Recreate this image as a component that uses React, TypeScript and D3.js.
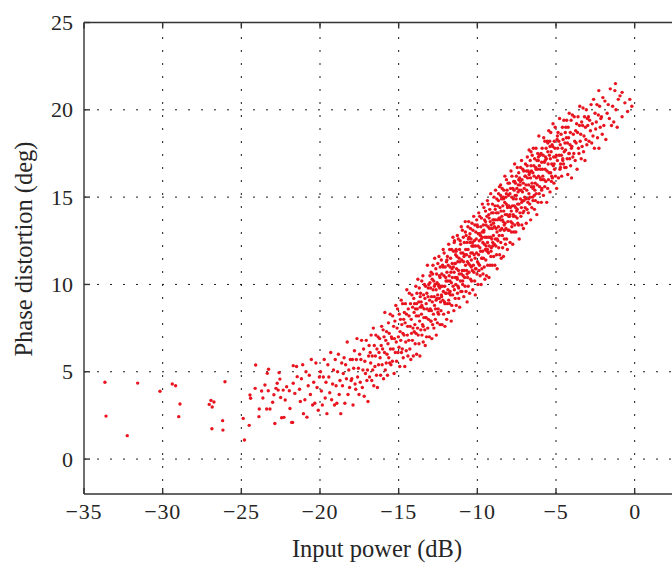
import React from "react";
import * as d3 from "d3";

// Axis ticks and titles
const xTicks = [-35, -30, -25, -20, -15, -10, -5, 0];
const yTicks = [0, 5, 10, 15, 20, 25];
const xLabel = "Input power (dB)";
const yLabel = "Phase distortion (deg)";

// Sparse low-power tail
const powerTail = [-33.67, -33.6, -32.25, -31.59, -30.17, -29.39, -29.18, -28.9, -28.98, -27.04, -26.93, -26.74, -26.85, -26.87, -26.19, -26.17, -26.04, -24.88, -24.8, -24.5, -24.09, -24.45, -24.41, -24.12, -23.88, -23.86, -23.71, -23.63, -23.5, -23.39, -23.35, -23.27, -23.18, -23.29, -23.01, -22.93, -22.87, -22.8, -22.72, -22.66, -22.6, -22.55, -22.5, -22.44, -22.34, -22.29, -22.21, -22.12, -21.95, -21.91, -21.74, -21.7, -21.7, -21.6, -21.45, -21.8, -21.49, -21.3, -21.25, -21.18, -21.1, -21.05];
const phaseTail = [4.4, 2.46, 1.34, 4.35, 3.88, 4.3, 4.2, 3.15, 2.43, 3.13, 3.36, 3.27, 2.98, 1.74, 2.2, 1.66, 4.43, 2.33, 1.09, 1.93, 5.39, 3.67, 3.48, 4.05, 2.43, 2.87, 3.9, 3.5, 4.24, 2.87, 4.91, 5.14, 2.87, 3.91, 3.25, 3.68, 2.04, 4.05, 4.34, 3.95, 4.95, 4.58, 3.53, 2.37, 3.95, 2.39, 3.38, 4.14, 3.91, 2.9, 2.1, 5.35, 4.34, 3.76, 4.72, 2.1, 5.3, 4.0, 3.3, 4.6, 5.4, 2.6];

// -21 dB to -15 dB
const powerLow = [
  -20.96, -20.89, -20.83, -20.75, -20.68, -20.61, -20.55, -20.47, -20.4, -20.33, -20.26, -20.19, -20.11, -20.04,
  -19.97, -19.91, -19.85, -19.79, -19.73, -19.67, -19.62, -19.56, -19.5, -19.44, -19.38, -19.32, -19.26, -19.2, -19.14, -19.08, -19.03,
  -18.98, -18.93, -18.88, -18.83, -18.78, -18.73, -18.68, -18.62, -18.57, -18.52, -18.47, -18.42, -18.37, -18.32, -18.27, -18.22, -18.17, -18.12, -18.07, -18.02,
  -17.98, -17.94, -17.9, -17.86, -17.81, -17.77, -17.73, -17.69, -17.65, -17.61, -17.56, -17.52, -17.48, -17.44, -17.4, -17.36, -17.31, -17.27, -17.23, -17.19, -17.15, -17.11, -17.06, -17.02,
  -16.98, -16.95, -16.91, -16.88, -16.85, -16.81, -16.78, -16.75, -16.71, -16.68, -16.65, -16.61, -16.58, -16.55, -16.51, -16.48, -16.45, -16.41, -16.38, -16.35, -16.31, -16.28, -16.25, -16.21, -16.18, -16.15, -16.11, -16.08, -16.05, -16.02,
  -15.99, -15.96, -15.93, -15.9, -15.88, -15.85, -15.82, -15.79, -15.77, -15.74, -15.71, -15.68, -15.65, -15.63, -15.6, -15.57, -15.54, -15.52, -15.49, -15.46, -15.43, -15.4, -15.38, -15.35, -15.32, -15.29, -15.27, -15.24, -15.21, -15.18, -15.15, -15.13, -15.1, -15.07, -15.04, -15.02,
];
const phaseLow = [
  3.4, 5.0, 2.4, 4.2, 4.8, 3.7, 5.7, 3.1, 4.4, 3.2, 5.5, 4.1, 2.8, 4.7,
  5.0, 3.9, 3.1, 4.7, 5.7, 3.5, 4.4, 2.6, 5.4, 4.7, 3.8, 6.1, 3.4, 4.3, 5.1, 3.1, 5.7,
  4.2, 3.2, 5.0, 6.0, 3.7, 4.5, 2.6, 5.5, 4.2, 4.9, 5.8, 3.2, 5.4, 4.6, 6.7, 3.7, 5.1, 4.1, 5.7, 4.5,
  4.6, 5.7, 3.1, 5.2, 6.2, 4.3, 4.0, 5.7, 6.9, 4.7, 5.2, 3.7, 6.0, 4.4, 5.7, 6.8, 4.1, 5.1, 6.3, 3.6, 5.6, 4.9, 6.8, 4.5,
  5.1, 3.3, 5.9, 6.5, 4.7, 6.1, 5.5, 7.1, 4.5, 5.9, 5.1, 7.5, 4.2, 6.5, 5.3, 5.9, 7.1, 4.8, 6.3, 4.1, 7.0, 5.4, 6.1, 6.9, 5.8, 4.8, 6.5, 7.6, 5.4, 6.3,
  7.4, 4.6, 7.0, 6.1, 8.4, 5.1, 6.8, 5.5, 7.3, 6.0, 4.8, 6.6, 7.8, 5.8, 7.2, 5.5, 8.3, 6.3, 5.4, 7.0, 6.9, 5.6, 8.2, 6.3, 7.6, 4.9, 6.9, 7.9, 6.1, 8.8, 6.7, 5.6, 7.5, 8.6, 6.1, 7.0,
];

// -15 dB to -9 dB
const powerMid = [
  -14.98, -14.96, -14.93, -14.91, -14.89, -14.87, -14.84, -14.82, -14.8, -14.77, -14.75, -14.73, -14.71, -14.68, -14.66, -14.64, -14.61, -14.59, -14.57, -14.55, -14.52, -14.5, -14.48, -14.45, -14.43, -14.41, -14.39, -14.36, -14.34, -14.32, -14.29, -14.27, -14.25, -14.23, -14.2, -14.18, -14.16, -14.13, -14.11, -14.09, -14.07, -14.04, -14.02, -14.01,
  -13.99, -13.97, -13.95, -13.93, -13.91, -13.9, -13.88, -13.86, -13.84, -13.82, -13.8, -13.78, -13.76, -13.74, -13.72, -13.71, -13.69, -13.67, -13.65, -13.63, -13.61, -13.59, -13.57, -13.55, -13.53, -13.52, -13.5, -13.48, -13.46, -13.44, -13.42, -13.4, -13.38, -13.36, -13.34, -13.33, -13.31, -13.29, -13.27, -13.25, -13.23, -13.21, -13.19, -13.17, -13.15, -13.13, -13.11, -13.09, -13.07, -13.05, -13.03, -13.01,
  -12.99, -12.97, -12.96, -12.94, -12.92, -12.91, -12.89, -12.87, -12.86, -12.84, -12.82, -12.81, -12.79, -12.77, -12.76, -12.74, -12.72, -12.71, -12.69, -12.67, -12.66, -12.64, -12.62, -12.61, -12.59, -12.57, -12.56, -12.54, -12.52, -12.51, -12.49, -12.47, -12.46, -12.44, -12.42, -12.41, -12.39, -12.37, -12.36, -12.34, -12.32, -12.31, -12.29, -12.27, -12.26, -12.24, -12.22, -12.21, -12.19, -12.17, -12.16, -12.14, -12.12, -12.11, -12.09, -12.07, -12.06, -12.04, -12.02, -12.01,
  -11.99, -11.98, -11.96, -11.95, -11.93, -11.91, -11.9, -11.88, -11.87, -11.85, -11.84, -11.82, -11.8, -11.79, -11.77, -11.76, -11.74, -11.73, -11.71, -11.7, -11.68, -11.66, -11.65, -11.63, -11.62, -11.6, -11.59, -11.57, -11.55, -11.54, -11.52, -11.51, -11.49, -11.48, -11.46, -11.45, -11.43, -11.41, -11.4, -11.38, -11.37, -11.35, -11.34, -11.32, -11.3, -11.29, -11.27, -11.26, -11.24, -11.23, -11.21, -11.2, -11.18, -11.16, -11.15, -11.13, -11.12, -11.1, -11.09, -11.07, -11.05, -11.04, -11.02, -11.01,
  -10.99, -10.98, -10.96, -10.95, -10.93, -10.92, -10.9, -10.89, -10.87, -10.86, -10.84, -10.83, -10.81, -10.8, -10.78, -10.77, -10.75, -10.74, -10.72, -10.71, -10.69, -10.68, -10.66, -10.65, -10.63, -10.62, -10.6, -10.59, -10.58, -10.56, -10.55, -10.53, -10.52, -10.5, -10.49, -10.47, -10.46, -10.44, -10.43, -10.41, -10.4, -10.38, -10.37, -10.35, -10.34, -10.32, -10.31, -10.29, -10.28, -10.26, -10.25, -10.23, -10.22, -10.2, -10.19, -10.17, -10.16, -10.14, -10.13, -10.11, -10.1, -10.08, -10.07, -10.05, -10.04, -10.02,
  -9.99, -9.98, -9.96, -9.95, -9.94, -9.92, -9.91, -9.89, -9.88, -9.86, -9.85, -9.84, -9.82, -9.81, -9.79, -9.78, -9.76, -9.75, -9.74, -9.72, -9.71, -9.69, -9.68, -9.66, -9.65, -9.64, -9.62, -9.61, -9.59, -9.58, -9.56, -9.55, -9.54, -9.52, -9.51, -9.49, -9.48, -9.46, -9.45, -9.44, -9.42, -9.41, -9.39, -9.38, -9.36, -9.35, -9.34, -9.32, -9.31, -9.29, -9.28, -9.26, -9.25, -9.24, -9.22, -9.21, -9.19, -9.18, -9.16, -9.15, -9.14, -9.12, -9.11, -9.09, -9.08, -9.06, -9.05, -9.04, -9.02, -9.01,
];
const phaseMid = [
  6.4, 8.3, 5.3, 7.3, 8.0, 6.8, 9.1, 6.1, 7.7, 6.3, 8.9, 7.2, 5.8, 8.0, 7.1, 8.4, 5.3, 7.8, 8.9, 6.7, 6.2, 8.3, 9.7, 7.1, 7.6, 5.9, 8.6, 6.8, 8.2, 9.5, 6.3, 7.6, 8.9, 5.7, 8.0, 7.2, 9.4, 6.8, 8.7, 7.5, 5.9, 9.2, 8.4, 7.3,
  8.9, 7.7, 6.6, 8.6, 9.9, 7.2, 8.2, 6.0, 9.5, 8.6, 7.5, 10.3, 7.1, 8.2, 9.0, 6.6, 9.8, 7.9, 5.9, 8.7, 9.5, 7.4, 9.0, 8.3, 10.2, 7.1, 8.7, 7.7, 10.5, 6.7, 9.4, 8.1, 8.6, 10.0, 7.4, 9.2, 6.5, 9.9, 8.1, 8.9, 7.0, 9.5, 8.6, 11.1, 7.5, 9.3, 8.0, 10.0, 8.5, 7.0, 9.1, 10.5,
  8.6, 9.8, 7.9, 10.7, 8.5, 9.3, 6.9, 10.3, 9.0, 7.7, 11.1, 9.7, 8.3, 10.2, 7.5, 9.3, 8.8, 11.5, 10.0, 8.0, 8.6, 10.9, 9.7, 7.1, 10.6, 9.2, 10.1, 7.8, 9.4, 11.2, 8.6, 10.0, 8.3, 11.6, 9.2, 10.5, 9.8, 7.7, 11.0, 9.0, 9.9, 8.5, 11.4, 9.3, 10.6, 7.7, 9.9, 11.1, 9.1, 12.0, 9.6, 8.3, 10.5, 11.8, 9.0, 9.9, 7.6, 11.0, 9.5, 10.4,
  10.2, 9.5, 11.3, 8.0, 10.7, 8.9, 11.6, 10.2, 9.7, 11.1, 8.4, 12.3, 9.5, 10.5, 8.9, 12.0, 10.2, 11.0, 9.4, 11.5, 10.7, 7.9, 10.1, 12.0, 8.8, 11.2, 10.4, 9.4, 12.7, 9.9, 11.0, 11.9, 8.5, 10.7, 9.7, 12.5, 11.2, 9.2, 10.4, 11.7, 10.0, 12.0, 8.8, 10.9, 11.6, 10.4, 12.8, 9.5, 11.3, 9.9, 12.6, 10.8, 9.2, 11.5, 10.6, 12.0, 8.7, 11.3, 12.5, 10.2, 9.6, 11.8, 13.3, 10.6,
  11.4, 9.6, 10.8, 13.1, 10.0, 11.8, 10.5, 12.7, 11.3, 9.3, 10.8, 12.4, 10.4, 11.7, 9.9, 13.6, 11.1, 12.0, 9.6, 12.8, 11.7, 10.8, 12.4, 9.0, 11.3, 10.4, 13.3, 12.0, 9.9, 11.2, 13.6, 10.7, 12.7, 11.6, 9.5, 12.4, 11.1, 13.2, 10.3, 11.8, 12.6, 11.4, 10.2, 12.2, 13.5, 10.8, 11.8, 9.7, 13.1, 12.2, 11.1, 13.9, 10.7, 11.7, 12.5, 10.2, 13.4, 11.5, 9.4, 12.2, 13.0, 10.9, 12.6, 11.8, 13.7, 10.6,
  11.3, 13.3, 10.0, 12.2, 12.9, 11.7, 14.1, 10.8, 12.5, 11.1, 13.9, 12.1, 10.5, 12.8, 11.9, 13.3, 10.0, 12.6, 13.8, 11.5, 10.9, 13.0, 14.6, 11.9, 12.4, 10.6, 13.4, 11.5, 13.0, 14.4, 11.0, 12.3, 13.7, 10.3, 12.7, 12.0, 14.2, 11.4, 13.4, 12.2, 10.5, 12.7, 13.9, 11.9, 14.8, 12.4, 11.1, 13.3, 14.6, 11.8, 12.7, 10.4, 13.8, 12.2, 13.2, 14.3, 11.1, 13.6, 12.7, 15.2, 11.6, 13.4, 12.1, 14.1, 12.6, 11.1, 13.2, 14.6, 12.4, 13.7,
];

// -9 dB to 0 dB
const powerHigh = [
  -8.99, -8.98, -8.96, -8.95, -8.94, -8.92, -8.91, -8.89, -8.88, -8.86, -8.85, -8.84, -8.82, -8.81, -8.79, -8.78, -8.76, -8.75, -8.74, -8.72, -8.71, -8.69, -8.68, -8.66, -8.65, -8.64, -8.62, -8.61, -8.59, -8.58, -8.56, -8.55, -8.54, -8.52, -8.51, -8.49, -8.48, -8.46, -8.45, -8.44, -8.42, -8.41, -8.39, -8.38, -8.36, -8.35, -8.34, -8.32, -8.31, -8.29, -8.28, -8.26, -8.25, -8.24, -8.22, -8.21, -8.19, -8.18, -8.16, -8.15, -8.14, -8.12, -8.11, -8.09, -8.08, -8.06, -8.05, -8.04, -8.02, -8.01,
  -7.99, -7.98, -7.96, -7.95, -7.93, -7.92, -7.9, -7.89, -7.87, -7.86, -7.84, -7.83, -7.81, -7.8, -7.78, -7.77, -7.75, -7.74, -7.72, -7.71, -7.69, -7.68, -7.66, -7.65, -7.63, -7.62, -7.6, -7.59, -7.58, -7.56, -7.55, -7.53, -7.52, -7.5, -7.49, -7.47, -7.46, -7.44, -7.43, -7.41, -7.4, -7.38, -7.37, -7.35, -7.34, -7.32, -7.31, -7.29, -7.28, -7.26, -7.25, -7.23, -7.22, -7.2, -7.19, -7.17, -7.16, -7.14, -7.13, -7.11, -7.1, -7.08, -7.07, -7.05, -7.04, -7.02,
  -6.99, -6.97, -6.96, -6.94, -6.92, -6.91, -6.89, -6.87, -6.86, -6.84, -6.82, -6.81, -6.79, -6.77, -6.76, -6.74, -6.72, -6.71, -6.69, -6.67, -6.66, -6.64, -6.62, -6.61, -6.59, -6.57, -6.56, -6.54, -6.52, -6.51, -6.49, -6.47, -6.46, -6.44, -6.42, -6.41, -6.39, -6.37, -6.36, -6.34, -6.32, -6.31, -6.29, -6.27, -6.26, -6.24, -6.22, -6.21, -6.19, -6.17, -6.16, -6.14, -6.12, -6.11, -6.09, -6.07, -6.06, -6.04, -6.02, -6.01,
  -5.99, -5.97, -5.95, -5.93, -5.91, -5.9, -5.88, -5.86, -5.84, -5.82, -5.8, -5.78, -5.76, -5.74, -5.72, -5.71, -5.69, -5.67, -5.65, -5.63, -5.61, -5.59, -5.57, -5.55, -5.53, -5.52, -5.5, -5.48, -5.46, -5.44, -5.42, -5.4, -5.38, -5.36, -5.34, -5.33, -5.31, -5.29, -5.27, -5.25, -5.23, -5.21, -5.19, -5.17, -5.15, -5.13, -5.11, -5.09, -5.07, -5.05, -5.03, -5.01,
  -4.98, -4.96, -4.93, -4.91, -4.89, -4.87, -4.84, -4.82, -4.8, -4.77, -4.75, -4.73, -4.71, -4.68, -4.66, -4.64, -4.61, -4.59, -4.57, -4.55, -4.52, -4.5, -4.48, -4.45, -4.43, -4.41, -4.39, -4.36, -4.34, -4.32, -4.29, -4.27, -4.25, -4.23, -4.2, -4.18, -4.16, -4.13, -4.11, -4.09, -4.07, -4.04, -4.02, -4.01,
  -3.99, -3.96, -3.93, -3.9, -3.87, -3.84, -3.81, -3.78, -3.75, -3.72, -3.69, -3.66, -3.63, -3.6, -3.57, -3.54, -3.51, -3.49, -3.46, -3.43, -3.4, -3.37, -3.34, -3.31, -3.28, -3.25, -3.22, -3.19, -3.16, -3.13, -3.1, -3.07, -3.04, -3.01,
  -2.98, -2.94, -2.9, -2.86, -2.81, -2.77, -2.73, -2.69, -2.65, -2.61, -2.56, -2.52, -2.48, -2.44, -2.4, -2.36, -2.31, -2.27, -2.23, -2.19, -2.15, -2.11, -2.06, -2.02,
  -1.96, -1.89, -1.83, -1.75, -1.68, -1.61, -1.55, -1.47, -1.4, -1.33, -1.26, -1.19, -1.11, -1.04,
  -0.93, -0.8, -0.62, -0.45, -0.31, -0.18, -1.22, -2.28, -0.8,
];
const phaseHigh = [
  14.1, 12.8, 11.6, 13.7, 15.0, 12.3, 13.3, 11.1, 14.5, 13.7, 12.6, 15.4, 12.2, 13.2, 14.1, 11.7, 14.9, 13.0, 10.9, 13.7, 14.5, 12.5, 14.1, 13.3, 15.2, 12.1, 13.8, 12.8, 15.6, 11.7, 14.4, 13.1, 13.7, 15.1, 12.4, 14.2, 11.5, 14.9, 13.2, 13.9, 15.5, 13.7, 12.1, 14.5, 13.6, 15.0, 11.6, 14.2, 15.4, 13.1, 12.6, 14.7, 16.2, 13.5, 14.0, 12.3, 15.0, 13.2, 14.6, 16.0, 12.6, 14.0, 15.4, 12.0, 14.4, 13.6, 15.8, 13.1, 15.1, 13.9,
  14.5, 13.1, 15.8, 13.9, 15.2, 12.4, 14.4, 15.5, 13.6, 16.5, 14.2, 13.0, 15.0, 16.2, 13.5, 14.5, 12.3, 15.5, 14.0, 14.9, 15.9, 13.0, 15.4, 14.5, 16.9, 13.4, 15.1, 13.9, 15.8, 14.4, 13.0, 14.9, 16.2, 14.2, 15.5, 13.8, 16.7, 14.6, 13.5, 15.3, 15.7, 13.4, 16.4, 14.6, 12.6, 15.4, 16.1, 14.1, 15.7, 14.9, 16.7, 13.9, 15.4, 14.4, 17.1, 13.4, 16.0, 14.8, 15.3, 16.6, 14.1, 15.8, 13.2, 16.5, 14.8, 15.5,
  15.0, 16.2, 14.4, 16.9, 14.9, 15.7, 13.5, 16.5, 15.4, 14.3, 17.3, 16.1, 14.7, 16.5, 14.1, 15.7, 15.2, 17.7, 16.4, 14.6, 15.0, 17.1, 16.1, 13.7, 16.8, 15.6, 16.5, 14.4, 15.8, 17.4, 15.0, 16.4, 14.8, 17.8, 15.6, 16.8, 16.2, 14.3, 17.2, 15.4, 15.8, 14.8, 16.7, 17.8, 15.2, 16.1, 14.0, 17.1, 15.7, 16.6, 17.5, 14.7, 17.1, 16.2, 18.5, 15.2, 16.8, 15.6, 17.4, 16.1,
  16.6, 16.0, 17.5, 14.7, 17.0, 15.5, 17.8, 16.6, 16.2, 17.4, 15.1, 18.4, 16.0, 17.0, 15.6, 18.2, 16.6, 17.3, 15.9, 17.8, 17.2, 14.7, 16.5, 18.2, 15.5, 17.6, 16.9, 16.0, 18.8, 16.4, 17.4, 18.2, 15.3, 17.2, 16.4, 18.7, 17.6, 15.9, 16.9, 18.0, 16.1, 17.9, 19.2, 16.8, 17.3, 15.8, 18.2, 16.6, 17.8, 19.0, 16.2, 17.3,
  17.4, 15.5, 18.3, 17.1, 17.8, 18.7, 16.1, 18.2, 17.4, 19.5, 16.6, 18.0, 16.9, 18.6, 17.4, 16.2, 17.8, 19.0, 17.2, 18.3, 16.9, 19.4, 17.6, 16.7, 18.1, 18.7, 17.7, 16.7, 18.4, 19.4, 17.2, 18.1, 16.3, 19.0, 18.4, 17.5, 19.8, 17.2, 18.0, 18.7, 16.8, 19.4, 17.8, 16.1,
  17.9, 19.7, 17.3, 18.6, 17.5, 19.6, 18.2, 17.1, 18.8, 18.1, 19.2, 16.6, 18.7, 19.6, 17.8, 17.5, 19.1, 20.2, 18.2, 18.6, 17.2, 19.3, 17.9, 19.1, 20.1, 17.6, 18.5, 19.6, 17.1, 19.0, 18.3, 20.0, 18.0, 19.5,
  19.1, 19.6, 18.2, 19.4, 18.8, 20.3, 18.1, 19.2, 18.5, 20.6, 17.8, 19.8, 18.9, 19.3, 20.3, 18.4, 19.7, 17.8, 20.2, 19.0, 19.5, 19.6, 18.6, 20.7,
  19.1, 20.5, 18.3, 19.8, 20.3, 19.5, 21.2, 19.1, 20.2, 19.3, 21.1, 20.0, 19.0, 20.6,
  20.8, 19.6, 20.4, 19.9, 20.6, 20.2, 21.5, 21.1, 21.0,
];

// Additional samples in the dense -14 dB to -4 dB stretch
const powerDense = [
  -12.73, -8.41, -10.57, -6.38, -11.82, -9.27, -7.63, -13.44, -5.52, -10.12, -8.86, -12.18, -7.04, -9.71, -11.35, -6.83, -4.72, -13.86, -10.93, -8.15,
  -12.51, -9.02, -7.37, -5.91, -11.06, -13.12, -8.66, -10.38, -6.12, -12.94, -9.48, -7.81, -4.38, -11.61, -8.29, -10.76, -5.27, -6.59, -12.37, -9.85,
  -7.18, -13.63, -11.19, -8.97, -6.74, -10.24, -4.91, -12.06, -9.13, -7.52, -5.69, -11.47, -13.27, -8.52, -10.65, -6.95, -12.84, -9.59, -7.93, -4.57,
  -11.93, -8.74, -10.47, -6.27, -13.01, -9.36, -7.71, -5.38, -11.73, -8.08, -12.62, -10.01, -6.46, -9.93, -7.27, -11.27, -8.33, -5.83, -12.28, -10.85,
  -4.16, -13.53, -9.68, -6.71, -8.59, -11.4, -7.46, -5.12, -10.31, -12.45,
];
const phaseDense = [
  9.9, 12.8, 12.6, 15.1, 9.1, 14.0, 15.9, 7.6, 18.1, 10.9, 14.3, 11.0, 14.2, 11.5, 11.9, 16.8, 16.7, 8.9, 10.2, 15.2,
  8.4, 12.2, 16.0, 15.4, 12.3, 9.8, 14.8, 11.0, 17.3, 7.9, 13.6, 13.3, 19.0, 10.9, 13.4, 13.0, 16.2, 17.6, 10.4, 12.9,
  14.7, 9.3, 9.8, 13.5, 14.9, 12.2, 18.5, 8.9, 11.9, 15.1, 17.1, 12.4, 8.1, 15.7, 10.6, 16.2, 10.6, 13.1, 14.0, 17.1,
  11.4, 12.6, 12.9, 16.6, 10.1, 12.0, 13.9, 17.9, 9.6, 14.5, 9.1, 13.4, 15.5, 11.2, 15.9, 10.3, 14.9, 16.0, 9.4, 11.6,
  17.5, 8.8, 12.7, 16.3, 13.8, 11.2, 14.3, 16.9, 12.4, 9.9,
];

const WIDTH = 672;
const HEIGHT = 564;
const PLOT = { left: 84, right: 674, top: 22.5, bottom: 494 };
const FONT = "'Liberation Serif', 'Times New Roman', serif";
const INK = "#262626";
const TICK_LEN = 6;

const formatTick = (v: number) => (v < 0 ? "\u2212" + Math.abs(v) : String(v));

export default function App() {
  const x = d3.scaleLinear().domain([-35, 2.5]).range([PLOT.left, PLOT.right]);
  const y = d3.scaleLinear().domain([-2, 25]).range([PLOT.bottom, PLOT.top]);

  const points = [
    ...d3.zip(powerTail, phaseTail),
    ...d3.zip(powerLow, phaseLow),
    ...d3.zip(powerMid, phaseMid),
    ...d3.zip(powerHigh, phaseHigh),
    ...d3.zip(powerDense, phaseDense),
  ];

  return (
    <div style={{ position: "absolute", left: 0, top: 0 }}>
      <svg width={WIDTH} height={HEIGHT} style={{ display: "block", overflow: "hidden" }}>
        <rect width={WIDTH} height={HEIGHT} fill="#ffffff" />

        {/* dotted grid */}
        <g stroke="#1a1a1a" strokeWidth={1} strokeDasharray="2 11" fill="none">
          {xTicks.filter((t) => t !== -35).map((t) => (
            <line key={"gx" + t} x1={x(t)} x2={x(t)} y1={PLOT.bottom} y2={PLOT.top} />
          ))}
          {yTicks.filter((t) => t !== 25).map((t) => (
            <line key={"gy" + t} x1={PLOT.left} x2={PLOT.right} y1={y(t)} y2={y(t)} />
          ))}
        </g>

        {/* measured samples */}
        <g fill="#e8141f">
          {points.map(([px, py], i) => (
            <circle key={i} cx={x(px)} cy={y(py)} r={1.7} />
          ))}
        </g>

        {/* axes box */}
        <g stroke="#333333" strokeWidth={1.4} fill="none">
          <line x1={PLOT.left} x2={PLOT.right} y1={PLOT.top} y2={PLOT.top} />
          <line x1={PLOT.left} x2={PLOT.right} y1={PLOT.bottom} y2={PLOT.bottom} />
          <line x1={PLOT.left} x2={PLOT.left} y1={PLOT.top} y2={PLOT.bottom} />
          {xTicks.map((t) => (
            <g key={"tx" + t}>
              <line x1={x(t)} x2={x(t)} y1={PLOT.bottom} y2={PLOT.bottom - TICK_LEN} />
              <line x1={x(t)} x2={x(t)} y1={PLOT.top} y2={PLOT.top + TICK_LEN} />
            </g>
          ))}
          {yTicks.map((t) => (
            <line key={"ty" + t} x1={PLOT.left} x2={PLOT.left + TICK_LEN} y1={y(t)} y2={y(t)} />
          ))}
        </g>

        {/* tick labels */}
        <g fill={INK} fontFamily={FONT} fontSize={22}>
          {xTicks.map((t) => (
            <text key={"lx" + t} x={x(t)} y={519} textAnchor="middle" letterSpacing={t < 0 ? 0.8 : 0}>
              {formatTick(t)}
            </text>
          ))}
          {yTicks.map((t) => (
            <text key={"ly" + t} x={PLOT.left - 11} y={y(t) + 7.5} textAnchor="end">
              {formatTick(t)}
            </text>
          ))}
        </g>

        {/* axis titles */}
        <text x={377} y={557} textAnchor="middle" fill={INK} fontFamily={FONT} fontSize={24.5}>
          {xLabel}
        </text>
        <text
          transform={`translate(32, 249) rotate(-90)`}
          textAnchor="middle"
          fill={INK}
          fontFamily={FONT}
          fontSize={24.5}
        >
          {yLabel}
        </text>
      </svg>
    </div>
  );
}
